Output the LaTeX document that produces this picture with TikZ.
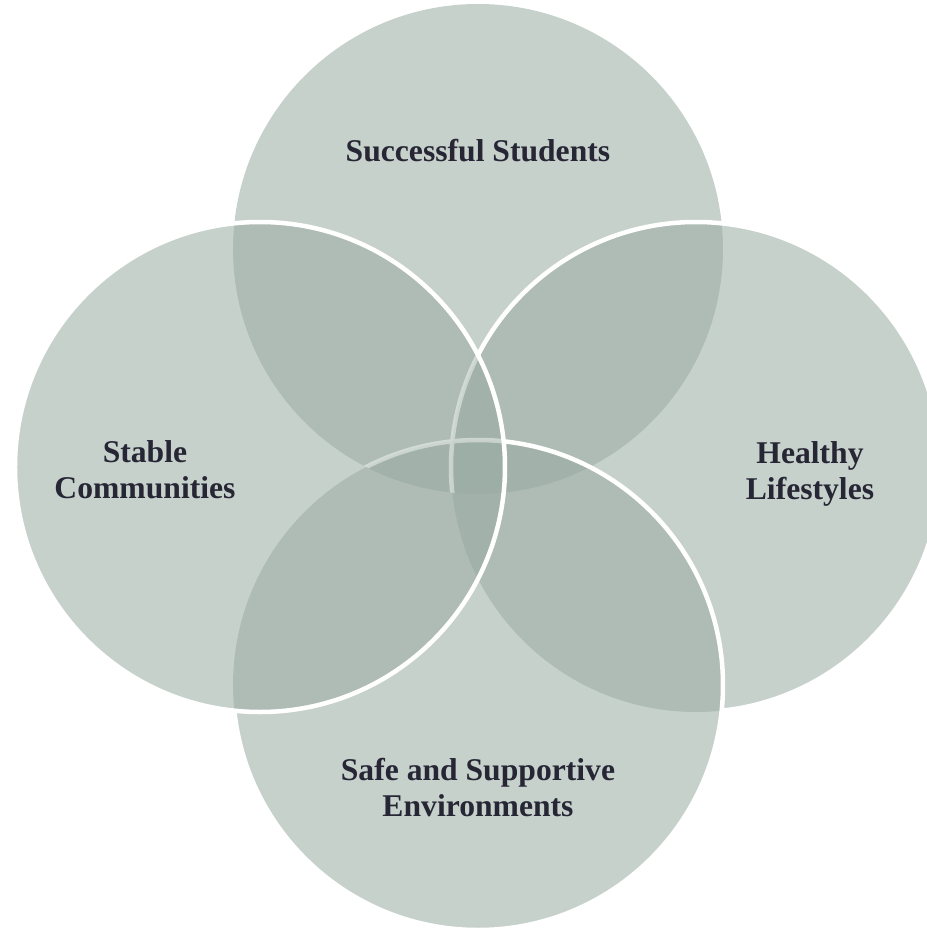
\documentclass[tikz,border=0pt]{standalone}
\usepackage{fontspec}
\setmainfont{Liberation Serif}
\definecolor{vennfill}{RGB}{152,170,161}
\definecolor{vennink}{RGB}{38,38,52}
\begin{document}
\begin{tikzpicture}[line join=round,line cap=round,font=\fontsize{18}{20.5}\selectfont\bfseries,
  venn/.style={fill=vennfill,fill opacity=0.54},
  rim/.style={draw=white,line width=0.09cm},
  faint/.style={rim,draw opacity=0.45},
  lbl/.style={text=vennink,align=center,inner sep=0pt}]
\useasboundingbox (-9.56,-9.3) rectangle (8.96,9.34);
\def\rad{4.9}
\coordinate (T) at (0,4.36);
\coordinate (L) at (-4.36,0);
\coordinate (R) at (4.36,0);
\coordinate (B) at (0,-4.36);
% the four circles
\fill[venn] (T) circle (\rad);
\fill[venn] (R) circle (\rad);
\fill[venn] (B) circle (\rad);
\fill[venn] (L) circle (\rad);
% white rims, hidden where a later circle lies on them
\begin{scope}[even odd rule]
  \clip (-12,-12) rectangle (12,12) (L) circle (\rad);
  \draw[rim] (B) circle (\rad);
  \begin{scope}[even odd rule]
    \clip (-12,-12) rectangle (12,12) (B) circle (\rad);
    \draw[rim] (R) circle (\rad);
  \end{scope}
\end{scope}
\begin{scope}
  \clip (L) circle (\rad);
  \clip (T) circle (\rad);
  \draw[faint] (R) circle (\rad) (B) circle (\rad);
\end{scope}
\draw[rim] (L) circle (\rad);
% labels
\node[lbl] (students) at (0,6.32) {Successful Students};
\node[lbl] (communities) at (-6.66,-0.06) {Stable\\Communities};
\node[lbl] (lifestyles) at (6.64,-0.14) {Healthy\\Lifestyles};
\node[lbl] (environments) at (0,-6.41) {Safe and Supportive\\Environments};
\end{tikzpicture}
\end{document}
